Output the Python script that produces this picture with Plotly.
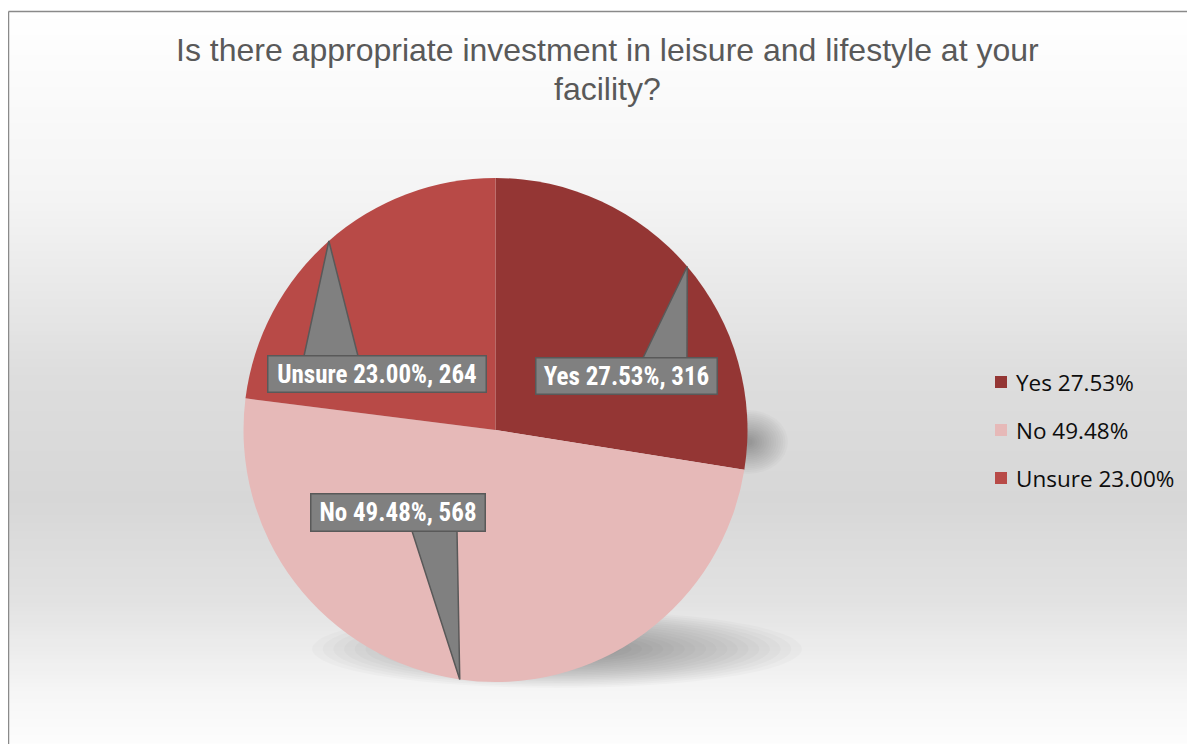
import math
import plotly.graph_objects as go

# ---------------- data ----------------
labels = ["Yes", "No", "Unsure"]
values = [316, 568, 264]
colors = ["#943634", "#E6B9B8", "#B84A47"]
title_lines = ["Is there appropriate investment in leisure and lifestyle at your", "facility?"]

W, H = 1195, 744
OFF = 8  # page body margin of the html page
total = sum(values)
pcts = [v / total * 100 for v in values]

def px(x):
    return (x - OFF) / W

def py(y):
    return 1 - (y - OFF) / H

# pie geometry (screen pixels)
CX, CY, R = 495.5, 430.0, 252.0

fig = go.Figure()
fig.add_trace(go.Pie(
    labels=[f"{l} {p:.2f}%" for l, p in zip(labels, pcts)],
    values=values,
    marker=dict(colors=colors, line=dict(width=0)),
    sort=False,
    direction="clockwise",
    rotation=0,
    textinfo="none",
    hoverinfo="label+value+percent",
    showlegend=False,
    domain=dict(x=[px(CX - R), px(CX + R)], y=[py(CY + R), py(CY - R)]),
))

shapes = []

# background vertical gradient
stops = [(0, (255, 255, 255)), (11, (255, 255, 255)), (200, (244, 244, 244)),
         (380, (221, 221, 221)), (500, (215, 215, 215)), (600, (226, 226, 226)),
         (700, (247, 247, 247)), (760, (255, 255, 255))]

def grad(y):
    for (y0, c0), (y1, c1) in zip(stops[:-1], stops[1:]):
        if y0 <= y <= y1:
            t = (y - y0) / (y1 - y0) if y1 > y0 else 0
            return tuple(round(a + (b - a) * t) for a, b in zip(c0, c1))
    return stops[-1][1]

step = 4
for y in range(11, H + OFF + 4, step):
    c = grad(y + step / 2)
    shapes.append(dict(type="rect", xref="paper", yref="paper", layer="below",
                       x0=px(8), x1=1.02, y0=py(y + step + 0.5), y1=py(y),
                       fillcolor=f"rgb({c[0]},{c[1]},{c[2]})", line=dict(width=0)))

# frame
shapes.append(dict(type="line", xref="paper", yref="paper", layer="below",
                   x0=px(8.5), x1=px(8.5), y0=-0.02, y1=py(11.5),
                   line=dict(color="#8a8a8a", width=1.5)))
shapes.append(dict(type="line", xref="paper", yref="paper", layer="below",
                   x0=px(8.5), x1=1.02, y0=py(11.5), y1=py(11.5),
                   line=dict(color="#8a8a8a", width=1.5)))

# soft shadows (concentric translucent ellipses)
def soft_ellipse(x0, y0, x1, y1, n=20, alpha=0.02):
    for i in range(n):
        sx = (x1 - x0) * 0.5 * i / (n + 1)
        sy = (y1 - y0) * 0.5 * i / (n + 1)
        shapes.append(dict(type="circle", xref="paper", yref="paper", layer="below",
                           x0=px(x0 + sx), x1=px(x1 - sx), y0=py(y1 - sy), y1=py(y0 + sy),
                           fillcolor=f"rgba(0,0,0,{alpha})", line=dict(width=0)))

soft_ellipse(312, 610, 802, 688, n=22, alpha=0.018)
soft_ellipse(708, 410, 788, 474, n=16, alpha=0.018)

# callout label styling (pixel boxes and pointer bases)
label_boxes = {  # left, top, right, bottom
    "Yes": (535, 357, 718, 395),
    "No": (310, 493, 486, 532),
    "Unsure": (267, 355, 487, 393),
}
pointer_bases = {  # x0, x1, y of base
    "Yes": (643, 687, 358),
    "No": (412, 457, 531),
    "Unsure": (304, 358, 356),
}

annotations = []
cum = 0.0
for lab, val, p in zip(labels, values, pcts):
    frac = val / total
    theta = math.radians(90 - 360 * (cum + frac / 2))
    cum += frac
    ax_ = CX + R * math.cos(theta)
    ay_ = CY - R * math.sin(theta)
    bx0, bx1, by = pointer_bases[lab]
    shapes.append(dict(type="path", xref="paper", yref="paper", layer="above",
                       path=f"M {px(bx0)} {py(by)} L {px(ax_)} {py(ay_)} L {px(bx1)} {py(by)} Z",
                       fillcolor="#808080", line=dict(color="#595959", width=1.5)))
    l, t, r, b = label_boxes[lab]
    annotations.append(dict(
        xref="paper", yref="paper", x=px((l + r) / 2), y=py((t + b) / 2),
        xanchor="center", yanchor="middle", showarrow=False,
        text=f"<b>{lab} {p:.2f}%, {val}</b>",
        font=dict(family="Liberation Sans Narrow, Roboto Condensed, Liberation Sans", size=25, color="white"),
        bgcolor="#808080", bordercolor="#595959", borderwidth=1.5, borderpad=0,
        width=r - l - 3, height=b - t - 3,
    ))

# legend (custom)
leg_x, leg_y0, leg_dy = 995, 382, 48
for i, (lab, p, c) in enumerate(zip(labels, pcts, colors)):
    yy = leg_y0 + i * leg_dy
    shapes.append(dict(type="rect", xref="paper", yref="paper", layer="above",
                       x0=px(leg_x), x1=px(leg_x + 12), y0=py(yy + 6), y1=py(yy - 6),
                       fillcolor=c, line=dict(width=0)))
    annotations.append(dict(
        xref="paper", yref="paper", x=px(leg_x + 19), y=py(yy),
        xanchor="left", yanchor="middle", showarrow=False,
        text=f"{lab} {p:.2f}%",
        font=dict(family="Open Sans, Lato, Liberation Sans", size=22.5, color="#0d0d0d"),
    ))

# title (two lines, tighter line spacing)
for line, yc in zip(title_lines, [50, 89]):
    annotations.append(dict(
        xref="paper", yref="paper", x=px(607), y=py(yc),
        xanchor="center", yanchor="middle", showarrow=False,
        text=line, align="center",
        font=dict(family="Liberation Sans, Arial", size=32, color="#595959"),
    ))

fig.update_layout(
    width=W, height=H,
    margin=dict(l=0, r=0, t=0, b=0),
    paper_bgcolor="white",
    plot_bgcolor="white",
    shapes=shapes,
    annotations=annotations,
    showlegend=False,
)

fig.write_html("out.html")
